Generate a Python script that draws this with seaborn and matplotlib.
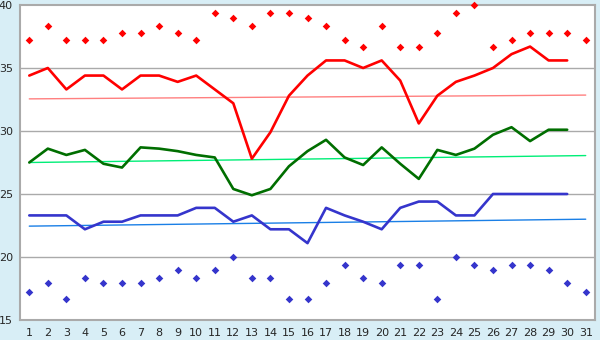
import matplotlib
matplotlib.use("Agg")
import matplotlib.pyplot as plt
import seaborn as sns
import pandas as pd

days = list(range(1, 32))
record_max = [37.2, 38.3, 37.2, 37.2, 37.2, 37.8, 37.8, 38.3, 37.8, 37.2,
              39.4, 39.0, 38.3, 39.4, 39.4, 39.0, 38.3, 37.2, 36.7, 38.3,
              36.7, 36.7, 37.8, 39.4, 40.0, 36.7, 37.2, 37.8, 37.8, 37.8, 37.2]
record_min = [17.2, 17.9, 16.7, 18.3, 17.9, 17.9, 17.9, 18.3, 19.0, 18.3,
              19.0, 20.0, 18.3, 18.3, 16.7, 16.7, 17.9, 19.4, 18.3, 17.9,
              19.4, 19.4, 16.7, 20.0, 19.4, 19.0, 19.4, 19.4, 19.0, 17.9, 17.2]
line_days = list(range(1, 31))
max_temp = [34.4, 35.0, 33.3, 34.4, 34.4, 33.3, 34.4, 34.4, 33.9, 34.4,
            33.3, 32.2, 27.8, 29.9, 32.8, 34.4, 35.6, 35.6, 35.0, 35.6,
            34.0, 30.6, 32.8, 33.9, 34.4, 35.0, 36.1, 36.7, 35.6, 35.6]
mean_temp = [27.5, 28.6, 28.1, 28.5, 27.4, 27.1, 28.7, 28.6, 28.4, 28.1,
             27.9, 25.4, 24.9, 25.4, 27.2, 28.4, 29.3, 27.9, 27.3, 28.7,
             27.4, 26.2, 28.5, 28.1, 28.6, 29.7, 30.3, 29.2, 30.1, 30.1]
min_temp = [23.3, 23.3, 23.3, 22.2, 22.8, 22.8, 23.3, 23.3, 23.3, 23.9,
            23.9, 22.8, 23.3, 22.2, 22.2, 21.1, 23.9, 23.3, 22.8, 22.2,
            23.9, 24.4, 24.4, 23.3, 23.3, 25.0, 25.0, 25.0, 25.0, 25.0]
trend_days = [1, 31]
max_trend = [32.55, 32.85]
mean_trend = [27.5, 28.05]
min_trend = [22.45, 23.0]
y_ticks = [15, 20, 25, 30, 35, 40]

sns.set_style("white")
plt.rcParams['font.family'] = ['DejaVu Sans']

fig = plt.figure(figsize=(6, 3.4), dpi=100, facecolor="#d8eef6")
ax = fig.add_axes([20/600, 20/340, 575/600, 315/340])
ax.set_facecolor("white")

for yv in y_ticks[1:-1]:
    ax.axhline(yv, color="#aaaaaa", lw=1, zorder=0)

sns.lineplot(x=trend_days, y=max_trend, ax=ax, color="#ff8080", lw=1)
sns.lineplot(x=trend_days, y=mean_trend, ax=ax, color="#00ee77", lw=1)
sns.lineplot(x=trend_days, y=min_trend, ax=ax, color="#1a7fe6", lw=1)

sns.lineplot(x=line_days, y=max_temp, ax=ax, color="#ff0000", lw=1.9)
sns.lineplot(x=line_days, y=mean_temp, ax=ax, color="#006e00", lw=1.9)
sns.lineplot(x=line_days, y=min_temp, ax=ax, color="#3535cc", lw=1.9)

sns.scatterplot(x=days, y=record_max, ax=ax, color="#ff0000", marker="D", s=15, linewidth=0, clip_on=False, zorder=5)
sns.scatterplot(x=days, y=record_min, ax=ax, color="#3535cc", marker="D", s=15, linewidth=0, clip_on=False, zorder=5)

ax.set_xlim(0.5, 31.5)
ax.set_ylim(15, 40)
ax.set_xticks(days)
ax.set_xticklabels([str(d) for d in days])
ax.set_yticks(y_ticks)
ax.set_yticklabels([str(t) for t in y_ticks])
ax.tick_params(axis='both', labelsize=8, length=4, width=1, color="black", pad=2, direction='out')
ax.tick_params(axis='y', pad=1)
for s in ax.spines.values():
    s.set_color("#aaaaaa")
    s.set_linewidth(1.5)
ax.set_xlabel("")
ax.set_ylabel("")

fig.savefig("out.png", dpi=100, facecolor=fig.get_facecolor())
